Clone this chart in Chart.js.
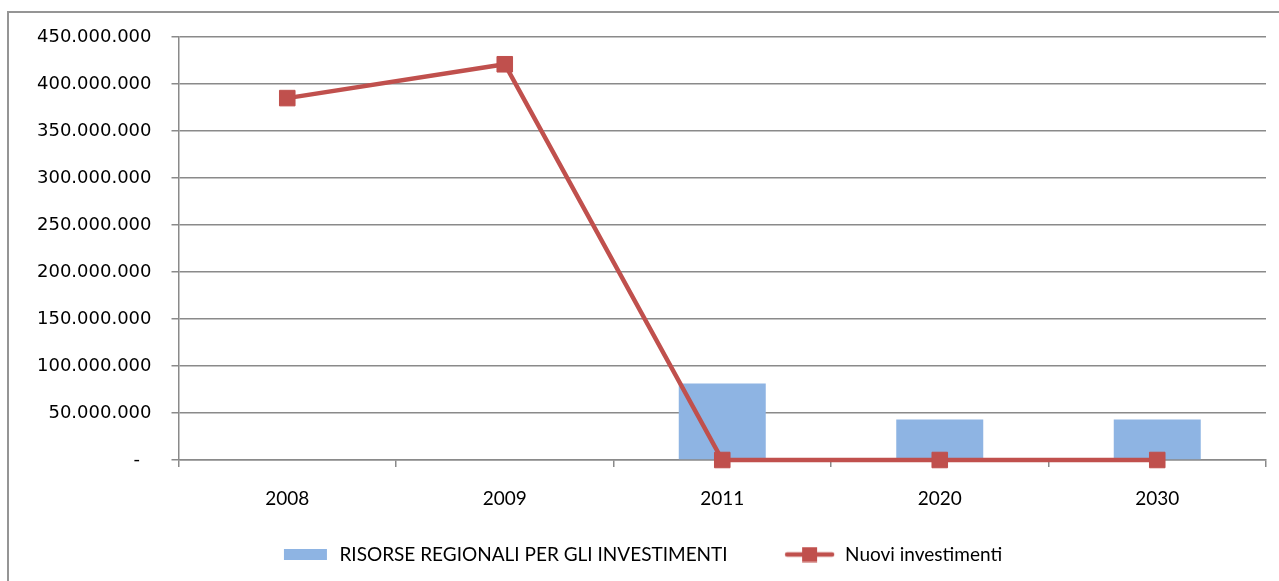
<!DOCTYPE html>
<html>
<head>
<meta charset="utf-8">
<script src="https://cdn.jsdelivr.net/npm/chart.js@4.4.0/dist/chart.umd.min.js"></script>
<style>
  html, body { margin: 0; padding: 0; background: #fff; overflow: hidden; }
  #frame {
    position: absolute; left: 7px; top: 11px; width: 1300px; height: 600px;
    border-left: 2px solid #959595; border-top: 2px solid #959595;
  }
  #wrap { position: absolute; left: 0; top: 0; width: 1279px; height: 581px; }
</style>
</head>
<body>
<div id="frame"></div>
<div id="wrap"><canvas id="chart" width="1279" height="581"></canvas></div>
<script>
  const categories = ['2008', '2009', '2011', '2020', '2030'];
  const risorseRegionali = [null, null, 81500000, 43000000, 43000000];
  const nuoviInvestimenti = [385000000, 421000000, 0, 0, 0];
  const yTicks = { min: 0, max: 450000000, step: 50000000 };

  const BLUE = '#8EB4E3';
  const RED = '#C0504D';
  const GRID = '#8a8a8a';

  function fmt(v) {
    if (v === 0) return '-  ';
    return String(v).replace(/\B(?=(\d{3})+(?!\d))/g, '.');
  }

  // legend swatches, drawn like the spreadsheet ones
  function barSwatch() {
    const c = document.createElement('canvas');
    c.width = 49; c.height = 11;
    const g = c.getContext('2d');
    g.fillStyle = BLUE;
    g.fillRect(3, 0, 43, 11);
    return c;
  }
  function lineSwatch() {
    const c = document.createElement('canvas');
    c.width = 60; c.height = 16;
    const g = c.getContext('2d');
    g.strokeStyle = RED;
    g.lineWidth = 4.5;
    g.lineCap = 'round';
    g.beginPath(); g.moveTo(6, 8); g.lineTo(51, 8); g.stroke();
    g.fillStyle = RED;
    g.fillRect(21, 0.5, 15, 15);
    return c;
  }
  const swatches = [barSwatch(), lineSwatch()];

  new Chart(document.getElementById('chart'), {
    data: {
      labels: categories,
      datasets: [
        {
          type: 'bar',
          label: 'RISORSE REGIONALI PER GLI INVESTIMENTI\u2003  ',
          data: risorseRegionali,
          backgroundColor: BLUE,
          borderWidth: 0,
          barPercentage: 0.4,
          categoryPercentage: 1,
          order: 1,
        },
        {
          type: 'line',
          label: 'Nuovi investimenti',
          data: nuoviInvestimenti,
          borderColor: RED,
          borderWidth: 4.5,
          tension: 0,
          pointStyle: 'rect',
          pointRadius: 11,
          pointHoverRadius: 11,
          pointBackgroundColor: RED,
          pointBorderColor: RED,
          pointBorderWidth: 1,
          clip: false,
          order: 0,
        },
      ],
    },
    options: {
      responsive: false,
      animation: false,
      layout: { padding: { left: 17, right: 13, top: 37, bottom: 7 } },
      plugins: {
        tooltip: { enabled: false },
        legend: {
          position: 'bottom',
          labels: {
            color: '#000',
            font: { family: 'Lato', size: 19 },
            usePointStyle: true,
            pointStyleWidth: 49,
            padding: 35,
            sort: (a, b) => a.datasetIndex - b.datasetIndex,
            generateLabels(chart) {
              const items = Chart.defaults.plugins.legend.labels.generateLabels(chart);
              items.forEach(it => { it.pointStyle = swatches[it.datasetIndex]; });
              return items;
            },
          },
        },
      },
      scales: {
        x: {
          offset: true,
          grid: {
            offset: true,
            drawOnChartArea: false,
            drawTicks: true,
            tickLength: 7,
            color: GRID,
            lineWidth: 1.5,
          },
          border: { color: GRID, width: 1.5 },
          ticks: { color: '#000', font: { family: 'Lato', size: 19 }, padding: 20 },
          afterFit(scale) { scale.height = 50; },
        },
        y: {
          min: yTicks.min,
          max: yTicks.max,
          grid: { color: GRID, lineWidth: 1.5, tickLength: 7 },
          border: { color: GRID, width: 1.5 },
          ticks: {
            stepSize: yTicks.step,
            color: '#000',
            font: { family: 'DejaVu Sans', size: 18 },
            padding: 20,
            callback: v => fmt(v),
          },
        },
      },
    },
  });
</script>
</body>
</html>
